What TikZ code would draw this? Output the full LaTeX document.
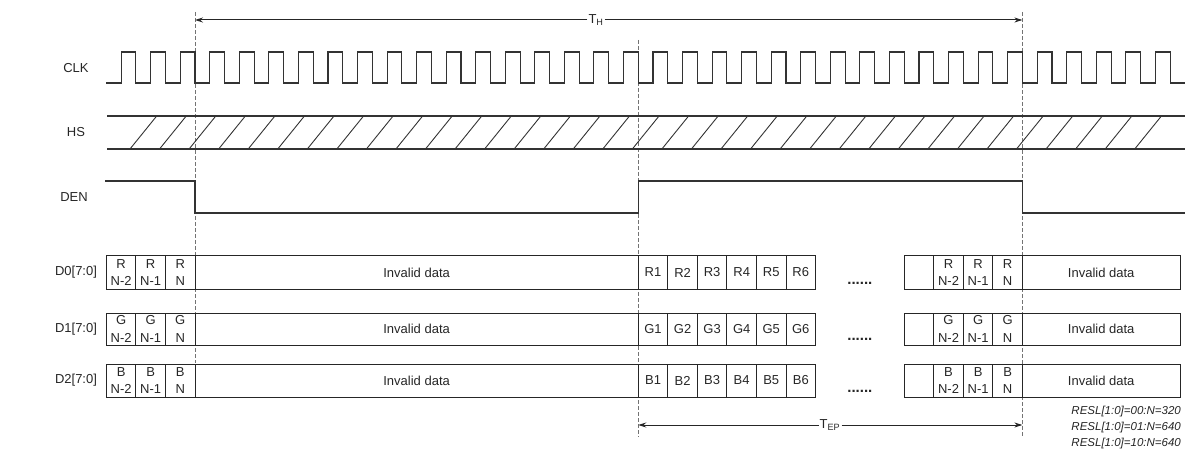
\documentclass[tikz,border=0pt]{standalone}
\usepackage{fontspec}
\setmainfont{Liberation Sans}
\usetikzlibrary{positioning,arrows.meta}
\def\tk{29.55}
\begin{document}
\begin{tikzpicture}[x=1pt,y=-1pt,>={Stealth[length=8pt,width=5pt]},
  wave/.style={line width=1.1pt,draw=black!80},
  hatch/.style={line width=0.9pt,draw=black!80},
  guide/.style={line width=0.9pt,draw=black!55,dash pattern=on 4pt off 2pt},
  cell/.style={line width=1pt,draw=black!85},
  dim/.style={->,line width=1pt,draw=black!85},
  sig/.style={font=\fontsize{13}{15}\selectfont,text=black!85,inner sep=1pt},
  ctext/.style={font=\fontsize{13}{17.5}\selectfont,align=center,text=black!85,inner sep=0pt}]
  \useasboundingbox (0,0) rectangle (1185,454);

  \coordinate (g1t) at (195,12);
  \coordinate (g1b) at (195,363);
  \coordinate (g2t) at ({195+15*\tk},40);
  \coordinate (g2b) at ({195+15*\tk},437);
  \coordinate (g3t) at ({195+28*\tk},12);
  \coordinate (g3b) at ({195+28*\tk},437);
  \draw[guide] (g1t) -- (g1b);
  \draw[guide] (g2t) -- (g2b);
  \draw[guide] (g3t) -- (g3b);

  \coordinate (thl) at (195,20);
  \coordinate (thr) at ({195+28*\tk},20);
  \node[sig] (th) at (596,20) {T\textsubscript{H}};
  \draw[dim] (th) -- (thl);
  \draw[dim] (th) -- (thr);

  \coordinate (tepl) at ({195+15*\tk},425);
  \coordinate (tepr) at ({195+28*\tk},425);
  \node[sig] (tep) at (830,425) {T\textsubscript{EP}};
  \draw[dim] (tep) -- (tepl);
  \draw[dim] (tep) -- (tepr);

  \node[sig] (clk) at (76,68) {CLK};
  \node[sig] (hs) at (76,132) {HS};
  \node[sig] (den) at (74,197) {DEN};

  \draw[wave] ({195-3*\tk},83) \foreach \k in {-3,...,32} {
    -- ({195+(\k+.5)*\tk},83) -- ({195+(\k+.5)*\tk},52)
    -- ({195+(\k+1)*\tk},52) -- ({195+(\k+1)*\tk},83)} -- (1185,83);

  \draw[wave] (107,116) -- (1185,116);
  \draw[wave] (107,149) -- (1185,149);
  \foreach \j in {0,...,34}
    \draw[hatch] ({130+\j*\tk},149) -- ({156.7+\j*\tk},116);

  \draw[wave] (105,181) -- (195,181) -- (195,213) -- ({195+15*\tk},213)
    -- ({195+15*\tk},181) -- ({195+28*\tk},181) -- ({195+28*\tk},213) -- (1185,213);

  \foreach \tp/\bt/\ch/\nm in {256/289/R/0,313/345/G/1,364/397/B/2} {
    \node[sig] (d\nm) at (76,{(\tp+\bt)/2}) {D\nm[7:0]};
    \draw[cell] ({195-3*\tk},\tp) rectangle (195,\bt);
    \draw[cell] ({195-2*\tk},\tp) -- ({195-2*\tk},\bt);
    \draw[cell] ({195-\tk},\tp) -- ({195-\tk},\bt);
    \node[ctext] at ({195-2.5*\tk},{(\tp+\bt)/2}) {\ch\\N-2};
    \node[ctext] at ({195-1.5*\tk},{(\tp+\bt)/2}) {\ch\\N-1};
    \node[ctext] at ({195-0.5*\tk},{(\tp+\bt)/2}) {\ch\\N};
    \draw[cell] (195,\tp) rectangle ({195+15*\tk},\bt);
    \node[ctext] (inv\nm a) at ({(195+195+15*\tk)/2},{(\tp+\bt)/2}) {Invalid data};
    \foreach \i in {1,...,6} {
      \draw[cell] ({195+(14+\i)*\tk},\tp) rectangle ({195+(15+\i)*\tk},\bt);
      \node[ctext] at ({195+(14.5+\i)*\tk},{(\tp+\bt)/2}) {\ch\i};
    }
    \node[ctext,anchor=base,font=\fontsize{15}{15}\selectfont\bfseries] at ({195+22.5*\tk},{\bt-5}) {......};
    \draw[cell] ({195+24*\tk},\tp) rectangle ({195+28*\tk},\bt);
    \foreach \i in {25,26,27}
      \draw[cell] ({195+\i*\tk},\tp) -- ({195+\i*\tk},\bt);
    \node[ctext] at ({195+25.5*\tk},{(\tp+\bt)/2}) {\ch\\N-2};
    \node[ctext] at ({195+26.5*\tk},{(\tp+\bt)/2}) {\ch\\N-1};
    \node[ctext] at ({195+27.5*\tk},{(\tp+\bt)/2}) {\ch\\N};
    \draw[cell] ({195+28*\tk},\tp) rectangle (1180,\bt);
    \node[ctext] (inv\nm b) at ({(195+28*\tk+1180)/2},{(\tp+\bt)/2}) {Invalid data};
  }

  \node[anchor=east,align=left,inner sep=0pt,text=black!85,
    font=\fontsize{11.5}{16}\selectfont\itshape] (resl) at (1181,428)
    {RESL[1:0]=00:N=320\\RESL[1:0]=01:N=640\\RESL[1:0]=10:N=640};
\end{tikzpicture}
\end{document}
